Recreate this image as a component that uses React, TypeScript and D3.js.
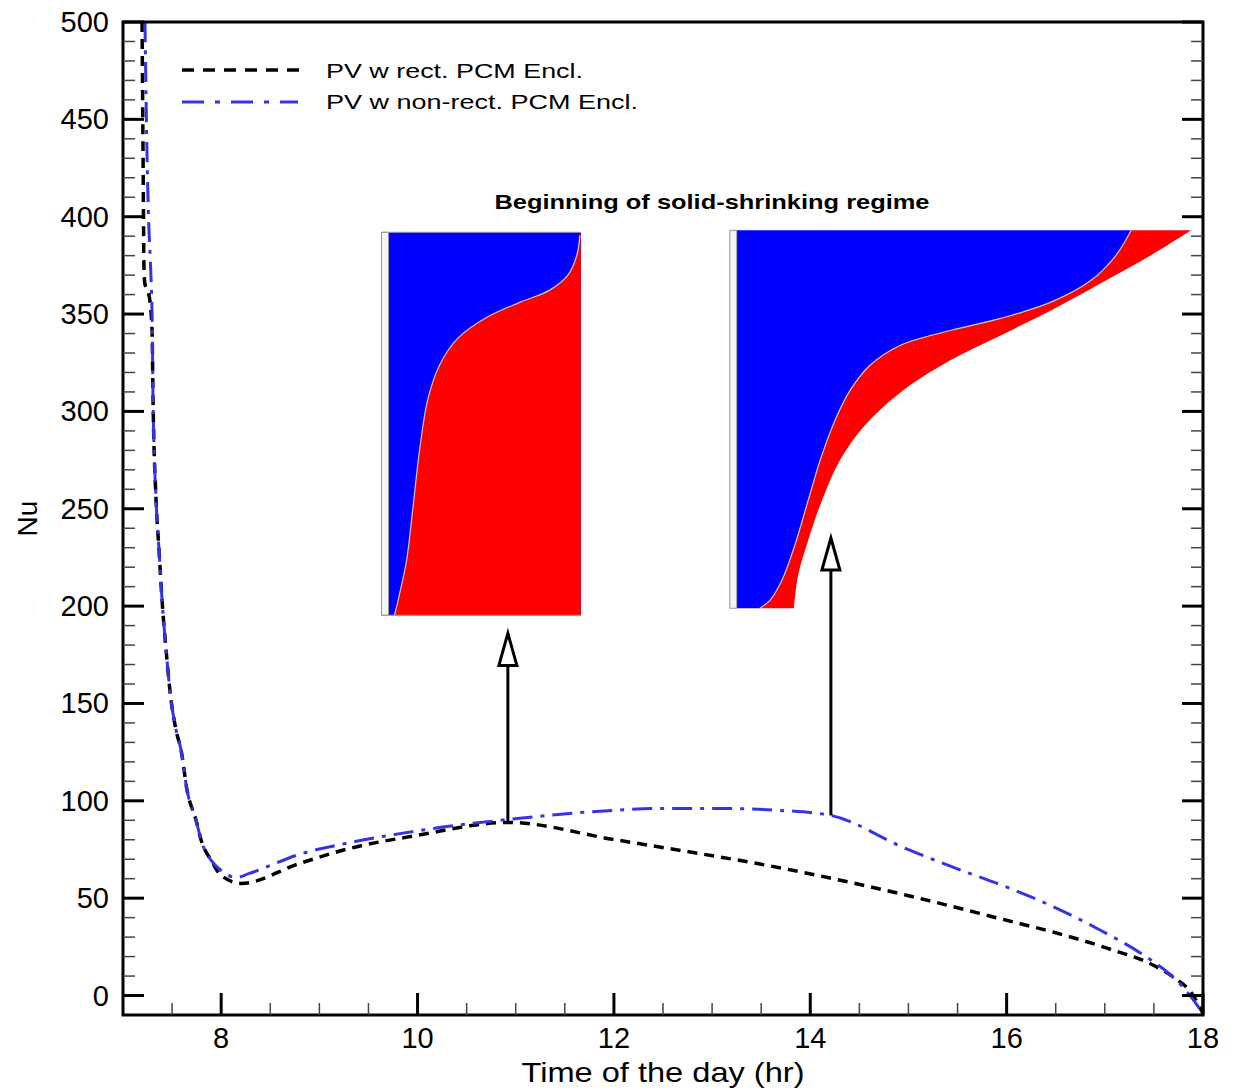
import React from 'react';
import * as d3 from 'd3';

// Nu vs time of day, two PV/PCM configurations
const hoursRect = [7.194, 7.204, 7.214, 7.222, 7.265, 7.296, 7.306, 7.337, 7.367, 7.398, 7.439, 7.49, 7.541, 7.592, 7.653, 7.745, 7.796, 7.898, 8.0, 8.204, 8.796, 9.306, 9.99, 10.92, 11.99, 13.98, 14.99, 16.01, 16.48, 17.03, 17.5, 17.72, 17.88, 18.0];
const nuRect = [500, 434, 372.6, 365.9, 359.7, 341.7, 305.8, 254.4, 228.7, 203, 177.3, 151.6, 136.2, 125.9, 105.3, 89.9, 79.7, 69.4, 61.7, 57.6, 67.8, 75.5, 82.2, 88.9, 80.2, 62.7, 51.4, 38.5, 32.5, 24.2, 15.4, 8.7, 1.5, -9.2];

const hoursNonRect = [7.224, 7.235, 7.255, 7.286, 7.296, 7.306, 7.337, 7.367, 7.398, 7.439, 7.49, 7.541, 7.592, 7.653, 7.745, 7.796, 7.898, 8.0, 8.153, 8.286, 8.796, 9.306, 9.99, 10.255, 10.92, 11.99, 12.47, 13.08, 13.69, 14.21, 14.95, 15.46, 16.01, 16.45, 16.96, 17.37, 17.64, 17.8, 18.0];
const nuNonRect = [500, 460, 408.5, 367.4, 350.5, 305.8, 254.4, 228.7, 203, 177.3, 151.6, 136.2, 125.9, 105.3, 89.9, 79.7, 69.4, 64.2, 60.6, 62.7, 72.5, 78.5, 84.5, 86.5, 90.4, 95.1, 96.1, 96.1, 95.1, 92.5, 76, 65.8, 55.5, 46.2, 33.4, 21.6, 11.8, 4.1, -9.2];

const xTickLabels = [8, 10, 12, 14, 16, 18];
const yTickLabels = [0, 50, 100, 150, 200, 250, 300, 350, 400, 450, 500];

const seriesNames = ['PV w rect. PCM Encl.', 'PV w non-rect. PCM Encl.'];

// arrows: time, start Nu, tip Nu
const arrowHours = [10.92, 14.21];
const arrowFrom = [88.9, 92.5];
const arrowTo = [186, 235];

// inset frames in data units: [x0, x1, yTop, yBottom]
const insetLeftBox = [9.633, 11.663, 392, 195.3];
const insetRightBox = [13.18, 17.88, 393, 198.9];

// inset contour shapes, normalized (u across, v down)
const leftInterface = [[0.065, 1], [0.089, 0.948], [0.126, 0.856], [0.156, 0.726], [0.191, 0.569], [0.231, 0.439], [0.291, 0.347], [0.382, 0.277], [0.518, 0.225], [0.693, 0.183], [0.844, 0.151], [0.935, 0.112], [0.98, 0.06], [0.995, 0.008]];
const rightInterface = [[0.87, 0], [0.837, 0.066], [0.783, 0.132], [0.696, 0.19], [0.587, 0.233], [0.478, 0.265], [0.37, 0.304], [0.304, 0.357], [0.261, 0.423], [0.228, 0.503], [0.196, 0.608], [0.17, 0.714], [0.141, 0.833], [0.113, 0.926], [0.087, 0.979], [0.065, 1]];
const rightOuter = [[1, 0], [0.913, 0.066], [0.804, 0.14], [0.696, 0.212], [0.587, 0.278], [0.478, 0.344], [0.37, 0.429], [0.293, 0.516], [0.239, 0.608], [0.2, 0.714], [0.17, 0.82], [0.148, 0.913], [0.139, 1]];

const font = '"Liberation Sans", Arial, sans-serif';

function Inset({ box, kind, x, y }) {
    const x0 = x(box[0]), x1 = x(box[1]), y0 = y(box[2]), y1 = y(box[3]);
    const u = d3.scaleLinear().domain([0, 1]).range([x0, x1]);
    const v = d3.scaleLinear().domain([0, 1]).range([y0, y1]);
    const curve = d3.line().x(p => u(p[0])).y(p => v(p[1])).curve(d3.curveCatmullRom);
    const stripW = kind === 'left' ? 0.035 : 0.015;

    if (kind === 'left') {
        const iface = curve(leftInterface);
        const red = iface + `L${u(1)},${v(0)}L${u(1)},${v(1)}Z`;
        return (
            <g>
                <rect x={u(stripW)} y={y0} width={x1 - u(stripW)} height={y1 - y0} fill="#0000ff" />
                <path d={red} fill="#ff0000" />
                <path d={iface} fill="none" stroke="#c8c8c8" strokeWidth={1.2} />
                <rect x={x0} y={y0} width={u(stripW) - x0} height={y1 - y0} fill="#f4f4f4" stroke="#9a9a9a" strokeWidth={1} />
                <line x1={x0} x2={x1} y1={y0} y2={y0} stroke="#9a9aaa" strokeWidth={1} />
                <line x1={x0} x2={x1} y1={y1} y2={y1} stroke="#9a9a9a" strokeWidth={1} />
            </g>
        );
    }
    const iface = curve(rightInterface);
    const ifaceRev = curve(rightInterface.slice().reverse());
    const outer = curve(rightOuter);
    const blue = `M${u(stripW)},${v(0)}` + iface.replace('M', 'L') + `L${u(stripW)},${v(1)}Z`;
    const red = outer + ifaceRev.replace('M', 'L') + 'Z';
    return (
        <g>
            <path d={blue} fill="#0000ff" />
            <path d={red} fill="#ff0000" />
            <path d={iface} fill="none" stroke="#c8c8c8" strokeWidth={1.2} />
            <rect x={x0} y={y0} width={u(stripW) - x0} height={y1 - y0} fill="#f4f4f4" stroke="#9a9a9a" strokeWidth={1} />
        </g>
    );
}

export default function App() {
    const width = 1237, height = 1090;
    const margin = { top: 22, right: 34, bottom: 75, left: 123 };

    const x = d3.scaleLinear().domain([7, 18]).range([margin.left, width - margin.right]);
    const y = d3.scaleLinear().domain([-10, 500]).range([height - margin.bottom, margin.top]);

    const [xa, xb] = x.range();
    const [yb, ya] = y.range();

    const xMinor = d3.range(7.5, 18, 0.5).filter(t => !xTickLabels.includes(t));
    const yMinor = d3.range(0, 500, 10).filter(t => !yTickLabels.includes(t));

    const line = d3.line().x(d => x(d[0])).y(d => y(d[1])).curve(d3.curveMonotoneX);
    const rectPts = hoursRect.map((h, i) => [h, nuRect[i]]);
    const nonRectPts = hoursNonRect.map((h, i) => [h, nuNonRect[i]]);

    const blueColor = '#3434e6';

    return (
        <div>
            <style>{`body{margin:0}`}</style>
            <svg width={width} height={height} style={{ display: 'block', background: '#fff' }}>
                <defs>
                    <clipPath id="plot">
                        <rect x={xa} y={ya} width={xb - xa} height={yb - ya} />
                    </clipPath>
                </defs>

                {/* insets */}
                <Inset box={insetLeftBox} kind="left" x={x} y={y} />
                <Inset box={insetRightBox} kind="right" x={x} y={y} />
                <text x={712} y={209} textAnchor="middle" fontFamily={font} fontWeight="bold" fontSize={21}
                    textLength={435} lengthAdjust="spacingAndGlyphs">
                    Beginning of solid-shrinking regime
                </text>

                {/* curves */}
                <g clipPath="url(#plot)">
                    <path d={line(rectPts)} fill="none" stroke="#000" strokeWidth={3.5} strokeDasharray="10,7" />
                    <path d={line(nonRectPts)} fill="none" stroke={blueColor} strokeWidth={3} strokeDasharray="20,8,4,8" />
                </g>

                {/* arrows */}
                {arrowHours.map((h, i) => {
                    const ax = x(h), base = y(arrowFrom[i]), tip = y(arrowTo[i]);
                    const headH = 32, headW = 9;
                    return (
                        <g key={i}>
                            <line x1={ax} x2={ax} y1={base} y2={tip + headH} stroke="#000" strokeWidth={3} />
                            <path d={`M${ax},${tip}L${ax + headW},${tip + headH}L${ax - headW},${tip + headH}Z`} fill="#fff" stroke="#000" strokeWidth={3} strokeLinejoin="miter" />
                        </g>
                    );
                })}

                {/* frame */}
                <rect x={xa} y={ya} width={xb - xa} height={yb - ya} fill="none" stroke="#000" strokeWidth={3} />

                {/* x ticks */}
                {xMinor.map(t => (
                    <line key={'xm' + t} x1={x(t)} x2={x(t)} y1={yb} y2={yb - 12} stroke="#444" strokeWidth={1.5} />
                ))}
                {xTickLabels.map(t => (
                    <g key={'x' + t}>
                        <line x1={x(t)} x2={x(t)} y1={yb} y2={yb - 22} stroke="#000" strokeWidth={3} />
                        <text x={x(t)} y={yb + 33} textAnchor="middle" fontFamily={font} fontSize={29}>{t}</text>
                    </g>
                ))}

                {/* y ticks on both sides */}
                {yMinor.map(t => (
                    <g key={'ym' + t}>
                        <line x1={xa} x2={xa + 12} y1={y(t)} y2={y(t)} stroke="#444" strokeWidth={1.5} />
                        <line x1={xb} x2={xb - 12} y1={y(t)} y2={y(t)} stroke="#444" strokeWidth={1.5} />
                    </g>
                ))}
                {yTickLabels.map(t => (
                    <g key={'y' + t}>
                        <line x1={xa} x2={xa + 21} y1={y(t)} y2={y(t)} stroke="#000" strokeWidth={3} />
                        <line x1={xb} x2={xb - 21} y1={y(t)} y2={y(t)} stroke="#000" strokeWidth={3} />
                        <text x={xa - 14} y={y(t) + 10} textAnchor="end" fontFamily={font} fontSize={29}>{t}</text>
                    </g>
                ))}

                {/* axis titles */}
                <text x={(xa + xb) / 2} y={1082} textAnchor="middle" fontFamily={font} fontSize={28}
                    textLength={283} lengthAdjust="spacingAndGlyphs">Time of the day (hr)</text>
                <text transform={`translate(37,${(ya + yb) / 2}) rotate(-90)`} textAnchor="middle" fontFamily={font} fontSize={28}>Nu</text>

                {/* legend */}
                <line x1={182} x2={305} y1={70} y2={70} stroke="#000" strokeWidth={3.5} strokeDasharray="12,9" />
                <text x={326} y={78} fontFamily={font} fontSize={21} textLength={257} lengthAdjust="spacingAndGlyphs">{seriesNames[0]}</text>
                <line x1={182} x2={298} y1={102} y2={102} stroke={blueColor} strokeWidth={3} strokeDasharray="22,11,5,11" />
                <text x={326} y={109} fontFamily={font} fontSize={21} textLength={312} lengthAdjust="spacingAndGlyphs">{seriesNames[1]}</text>
            </svg>
        </div>
    );
}
